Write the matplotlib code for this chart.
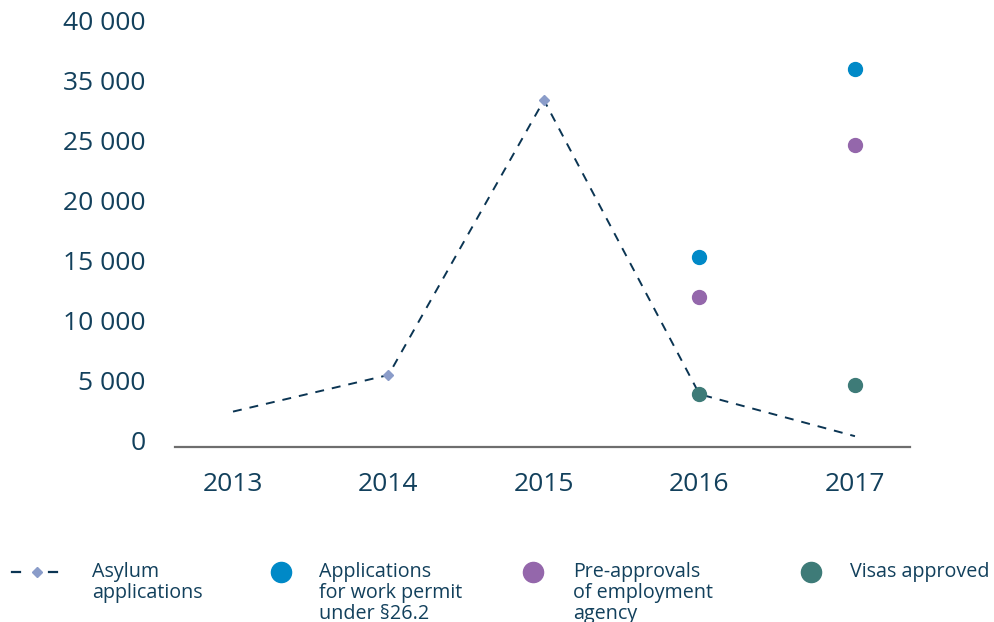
"""
plot.py
-------
Asylum applications vs. work permit / employment agency / visa figures, 2013-2017.
Saves out.png (995x622).
"""

import matplotlib
matplotlib.use("Agg")
import matplotlib.pyplot as plt
import matplotlib.transforms as mtransforms
from matplotlib.lines import Line2D

# ── Data ───────────────────────────────────────────────────────────────────
years        = ["2013", "2014", "2015", "2016", "2017"]
asylum       = [2950, 6000, 28900, 4400, 900]
work_permit  = [None, None, None, 15800, 31500]
pre_approval = [None, None, None, 12500, 25150]
visas        = [None, None, None, 4400, 5200]

y_ticks       = [0, 5000, 10000, 15000, 20000, 25000, 30000, 35000]
y_tick_labels = ["0", "5 000", "10 000", "15 000", "20 000", "25 000", "35 000", "40 000"]

legend_labels = ["Asylum\napplications",
                 "Applications\nfor work permit\nunder §26.2",
                 "Pre-approvals\nof employment\nagency",
                 "Visas approved"]

# ── Style ──────────────────────────────────────────────────────────────────
TEXT   = "#12405c"
NAVY   = "#0b3553"
DIAM   = "#8a9cc9"
BLUE   = "#0089c7"
PURPLE = "#9467ab"
GREEN  = "#3e7b78"
AXIS   = "#6e6e6e"

plt.rcParams["font.family"] = ["Open Sans", "DejaVu Sans"]

W, H = 995, 622
fig = plt.figure(figsize=(W / 100, H / 100), dpi=100)
ax = fig.add_axes([175 / W, (H - 447) / H, (910 - 175) / W, 438 / H])

x = list(range(len(years)))

ax.plot(x, asylum, color=NAVY, lw=1.4, dashes=(4.6, 4.1), zorder=2)
ax.plot(x, asylum, ls="none", marker="D", ms=5.5, color=DIAM,
        markevery=[1, 2], zorder=3)


def pts(vals):
    return [(i, v) for i, v in enumerate(vals) if v is not None]


for vals, col in [(work_permit, BLUE), (pre_approval, PURPLE), (visas, GREEN)]:
    px, py = zip(*pts(vals))
    ax.plot(px, py, ls="none", marker="o", ms=10, color=col, zorder=4)

ax.set_xlim(-0.373, 4.354)
ax.set_ylim(0, 36500)
ax.set_xticks(x)
ax.set_xticklabels(years)
ax.set_yticks(y_ticks)
ax.set_yticklabels(y_tick_labels)
ax.tick_params(length=0, labelsize=19, labelcolor=TEXT)
ax.tick_params(axis="x", pad=18)
ax.tick_params(axis="y", pad=21)

# y labels sit a little above their gridline positions
off = mtransforms.ScaledTranslation(0, 7 / 100, fig.dpi_scale_trans)
for lab in ax.get_yticklabels():
    lab.set_transform(lab.get_transform() + off)

for s in ["top", "right", "left"]:
    ax.spines[s].set_visible(False)
ax.spines["bottom"].set_color(AXIS)
ax.spines["bottom"].set_linewidth(1.6)

# ── Legend (drawn by hand) ─────────────────────────────────────────────────
def fx(px):
    return px / W


def fy(py):
    return (H - py) / H


ly = 572
fig.add_artist(Line2D([fx(12), fx(20)], [fy(ly), fy(ly)], color=NAVY, lw=1.6))
fig.add_artist(Line2D([fx(49), fx(57)], [fy(ly), fy(ly)], color=NAVY, lw=1.6))
fig.add_artist(Line2D([fx(37)], [fy(ly)], marker="D", ms=5.5, color=DIAM, ls="none"))
for mx, col in [(281, BLUE), (533, PURPLE), (811, GREEN)]:
    fig.add_artist(Line2D([fx(mx)], [fy(ly)], marker="o", ms=14.5, color=col, ls="none"))

for tx, lab in zip([92, 319, 573, 850], legend_labels):
    fig.text(fx(tx), fy(562), lab, ha="left", va="top", fontsize=14.2,
             color=TEXT, linespacing=1.06)

fig.savefig("out.png", dpi=100)
